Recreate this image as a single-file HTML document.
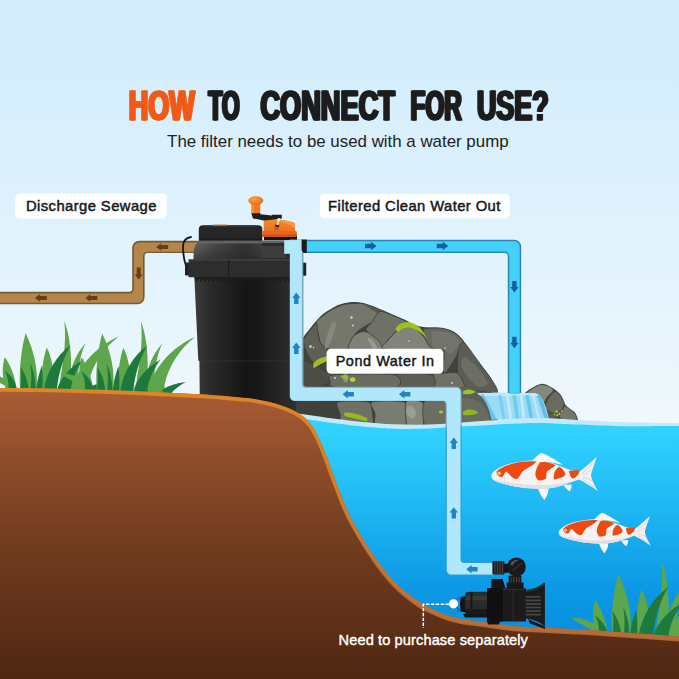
<!DOCTYPE html>
<html lang="en">
<head>
<meta charset="utf-8">
<title>How to connect for use</title>
<style>
html,body{margin:0;padding:0;background:#d6eefc;}
body{width:679px;height:679px;overflow:hidden;position:relative;font-family:"Liberation Sans",sans-serif;}
svg{position:absolute;left:0;top:0;display:block;}
text{font-family:"Liberation Sans",sans-serif;}
</style>
</head>
<body>
<svg width="679" height="679" viewBox="0 0 679 679">
<defs>
  <linearGradient id="sky" gradientUnits="userSpaceOnUse" x1="0" y1="0" x2="0" y2="420">
    <stop offset="0" stop-color="#d5edfc"/>
    <stop offset="0.2" stop-color="#d6eefc"/>
    <stop offset="0.62" stop-color="#e2f3fd"/>
    <stop offset="1" stop-color="#f0f8fc"/>
  </linearGradient>
  <linearGradient id="water" gradientUnits="userSpaceOnUse" x1="0" y1="418" x2="0" y2="679">
    <stop offset="0" stop-color="#33d6ff"/>
    <stop offset="0.31" stop-color="#20baf5"/>
    <stop offset="0.66" stop-color="#0c98e4"/>
    <stop offset="1" stop-color="#0586d8"/>
  </linearGradient>
  <linearGradient id="ground" gradientUnits="userSpaceOnUse" x1="0" y1="390" x2="0" y2="679">
    <stop offset="0" stop-color="#a95c35"/>
    <stop offset="0.49" stop-color="#753e20"/>
    <stop offset="1" stop-color="#4f2713"/>
  </linearGradient>
  <linearGradient id="groundEdge" gradientUnits="userSpaceOnUse" x1="0" y1="388" x2="0" y2="640">
    <stop offset="0" stop-color="#de8526"/>
    <stop offset="0.45" stop-color="#d07c2a"/>
    <stop offset="0.8" stop-color="#bf7335"/>
    <stop offset="1" stop-color="#b56a38"/>
  </linearGradient>
  <linearGradient id="groundEdge2" gradientUnits="userSpaceOnUse" x1="0" y1="388" x2="0" y2="640">
    <stop offset="0" stop-color="#b26a34" stop-opacity="0"/>
    <stop offset="0.6" stop-color="#a5622f" stop-opacity="0"/>
    <stop offset="0.85" stop-color="#b06838" stop-opacity="0.9"/>
    <stop offset="1" stop-color="#ae6636" stop-opacity="1"/>
  </linearGradient>
  <linearGradient id="can" gradientUnits="userSpaceOnUse" x1="194" y1="0" x2="296" y2="0">
    <stop offset="0" stop-color="#3c3c3c"/>
    <stop offset="0.16" stop-color="#2b2b2b"/>
    <stop offset="0.5" stop-color="#151515"/>
    <stop offset="0.62" stop-color="#171717"/>
    <stop offset="1" stop-color="#303030"/>
  </linearGradient>
  <linearGradient id="shoulder" gradientUnits="userSpaceOnUse" x1="0" y1="240" x2="0" y2="260">
    <stop offset="0" stop-color="#666664"/>
    <stop offset="0.5" stop-color="#555552"/>
    <stop offset="1" stop-color="#3e3e3c"/>
  </linearGradient>
  <linearGradient id="shoulderDark" gradientUnits="userSpaceOnUse" x1="196" y1="0" x2="262" y2="0">
    <stop offset="0" stop-color="#262626" stop-opacity="0"/>
    <stop offset="0.3" stop-color="#262626" stop-opacity="0.45"/>
    <stop offset="0.75" stop-color="#222222" stop-opacity="0.75"/>
    <stop offset="1" stop-color="#262626" stop-opacity="0.55"/>
  </linearGradient>
  <linearGradient id="orangeCap" gradientUnits="userSpaceOnUse" x1="0" y1="220" x2="0" y2="238">
    <stop offset="0" stop-color="#f58a2a"/>
    <stop offset="0.6" stop-color="#ee7220"/>
    <stop offset="1" stop-color="#d55a16"/>
  </linearGradient>
  <radialGradient id="knob" cx="0.4" cy="0.35" r="0.7">
    <stop offset="0" stop-color="#ffa040"/>
    <stop offset="1" stop-color="#e8681a"/>
  </radialGradient>
  <linearGradient id="fall" gradientUnits="userSpaceOnUse" x1="0" y1="393" x2="0" y2="420">
    <stop offset="0" stop-color="#7fd0f3"/>
    <stop offset="1" stop-color="#a8e2f9"/>
  </linearGradient>
</defs>

<rect x="0" y="0" width="679" height="440" fill="url(#sky)"/>
<g id="rocks">
<path d="M298,346 C301,340 304,336 308,331 C312,326 315,322 318,319 C322,314 326,311.5 330,309.5 C335,306 340,304 345,303 C350,301.6 357,301.5 362,302.8 C368,304 378,308 388,312.5 C396,316 402,320 410,323 C416,326 424,327.5 431,327.6 C440,327.4 449,329 454.5,332 C460,336 463,340 465,343 C470,351 475,357 479,362 C484,369 487,373 489.6,376.3 C493,382 496,388 498,392 L498,430 L298,430 Z" fill="#42443c"/>
<path d="M316.2,322 C317.68,319.4 326,313.2 329.5,311 C333,308.8 340.15,305.32 344.2,304.4 C348.25,303.47 357.85,303.08 361.9,303.6 C365.95,304.12 374.03,307.1 376.6,308.6 C379.18,310.1 383.24,313.8 382.5,315.6 C381.76,317.4 373.65,321.16 370.7,323 C367.75,324.84 361.3,328.28 358.9,330.3 C356.5,332.32 352.79,336.86 351.5,339.2 C350.21,341.54 351.64,347.77 348.6,349 C345.56,350.23 330.7,349.68 327.2,349 C323.7,348.32 321.79,345.75 320.6,343.6 C319.41,341.45 318.25,334.5 317.7,331.8 C317.15,329.1 314.72,324.6 316.2,322Z" fill="#74766b" stroke="#3c3e37" stroke-width="0.8" stroke-linejoin="round"/>
<path d="M361.9,303.6 C361.72,302.99 373.09,307.35 376.6,308.6 C380.11,309.85 386.82,312.35 390,313.6 C393.18,314.85 399.5,317.39 402,318.6 C404.5,319.81 410.54,322.38 410,323.3 C409.46,324.23 400.45,326.29 397.7,326 C394.95,325.71 390.46,322.56 388,321 C385.54,319.44 381.26,315.68 378,313.5 C374.74,311.32 362.07,304.21 361.9,303.6Z" fill="#55574e"/>
<path d="M303.7,340 C304.62,335.84 314.45,324.62 316.2,323.6 C317.95,322.58 317.15,329.3 317.7,331.8 C318.25,334.3 319.41,341.4 320.6,343.6 C321.79,345.8 326.46,347.19 327.2,349.4 C327.94,351.61 327.88,359.45 326.5,361.3 C325.12,363.15 318.41,364.75 316.2,364.2 C313.99,363.65 310.36,359.92 308.8,356.9 C307.24,353.88 302.77,344.16 303.7,340Z" fill="#5e6057" stroke="#3c3e37" stroke-width="0.8" stroke-linejoin="round"/>
<path d="M303.5,360.8 C304.9,358.26 311.82,364.35 314.7,365.7 C317.57,367.05 324.1,370.12 326.5,371.6 C328.9,373.08 334.45,375.7 333.9,377.5 C333.35,379.3 325.9,384.94 322.1,386 C318.3,387.06 305.82,389.15 303.5,386 C301.18,382.85 302.1,363.34 303.5,360.8Z" fill="#4c4e46" stroke="#3c3e37" stroke-width="0.8" stroke-linejoin="round"/>
<path d="M354.5,335.2 C356.06,334.04 360.91,331.45 363.3,331.4 C365.69,331.35 371.2,333.09 373.6,334.8 C376,336.51 381.15,343.25 382.5,345.1 C383.85,346.95 388.46,349.04 384.4,349.6 C380.34,350.16 354.2,350.71 350,349.6 C345.8,348.49 350.24,342.5 350.8,340.7 C351.36,338.9 352.94,336.36 354.5,335.2Z" fill="#7f8177" stroke="#3c3e37" stroke-width="0.8" stroke-linejoin="round"/>
<path d="M380.5,311.5 C383.71,310.95 394.01,316.06 397.7,317.6 C401.39,319.14 410,322.21 410,323.8 C410,325.39 400.57,328.15 397.7,330.3 C394.82,332.45 388.74,338.66 387,341 C385.26,343.34 384.93,349.12 383.8,349 C382.68,348.88 380.23,342.38 378,340 C375.77,337.62 366.75,332.25 366,330 C365.25,327.75 370.19,324.31 372,322 C373.81,319.69 377.29,312.05 380.5,311.5Z" fill="#6f7166" stroke="#3c3e37" stroke-width="0.8" stroke-linejoin="round"/>
<path d="M397.7,330.6 C400.75,328.76 408.49,325.45 411.8,326.3 C415.11,327.15 421.76,334.56 424.2,337.4 C426.64,340.24 436.32,347.55 431.3,349 C426.28,350.45 389.49,350 384,349 C378.51,348 385.69,343.3 387.4,341 C389.11,338.7 394.65,332.44 397.7,330.6Z" fill="#828479" stroke="#3c3e37" stroke-width="0.8" stroke-linejoin="round"/>
<path d="M424.2,329 C426.39,327.85 438.15,327.75 441.9,328.2 C445.65,328.65 451.55,330.95 454.2,332.6 C456.85,334.25 462.65,338.81 463.1,341.4 C463.55,343.99 459.35,350.26 457.8,353.3 C456.25,356.34 452.47,363.26 450.7,365.7 C448.93,368.14 444.49,374.76 443.6,372.8 C442.71,370.84 445.14,353.05 443.6,350 C442.06,346.95 433.7,349.97 431.3,348.4 C428.9,346.82 425.29,339.82 424.4,337.4 C423.51,334.97 422.01,330.15 424.2,329Z" fill="#676960" stroke="#3c3e37" stroke-width="0.8" stroke-linejoin="round"/>
<path d="M433,331.6 C435.21,330.03 447.39,332.25 450.7,333.6 C454.01,334.95 459.5,339.94 459.5,342.4 C459.5,344.86 452.69,352.38 450.7,353.3 C448.71,354.23 445.81,350.69 443.6,349.8 C441.39,348.91 434.32,348.47 433,346.2 C431.68,343.93 430.79,333.18 433,331.6Z" fill="#73756b"/>
<path d="M463.4,342 C466.02,343.12 475.73,358.28 479,362.6 C482.27,366.93 487.33,373.01 489.6,376.6 C491.88,380.19 498.52,389.46 497.2,391.3 C495.88,393.14 483.05,391.85 479,391.3 C474.95,390.75 467.45,389.21 464.8,386.9 C462.15,384.59 458.65,376.96 457.8,372.8 C456.95,368.64 457.3,357.45 458,353.6 C458.7,349.75 460.77,340.88 463.4,342Z" fill="#5c5e55" stroke="#3c3e37" stroke-width="0.8" stroke-linejoin="round"/>
<path d="M464.8,357 C467.01,357.44 476.12,365.9 479,369.2 C481.88,372.5 487.8,381.19 487.8,383.4 C487.8,385.61 481.43,387.57 479,386.9 C476.57,386.22 470.61,380.65 468.4,378 C466.19,375.35 461.75,368.32 461.3,365.7 C460.85,363.07 462.59,356.56 464.8,357Z" fill="#6d6f65"/>
<path d="M443.6,373.2 C446.7,373 455.15,371.49 457.8,373.2 C460.45,374.91 464.8,385.02 464.8,386.9 C464.8,388.77 461.78,388.14 457.8,388.2 C453.82,388.26 436.1,389.07 433,387.4 C429.9,385.72 431.68,376.57 433,374.8 C434.32,373.03 440.5,373.4 443.6,373.2Z" fill="#6f7166" stroke="#3c3e37" stroke-width="0.8" stroke-linejoin="round"/>
<path d="M395.9,374.8 C400.1,373.23 426.71,373.23 431.3,374.8 C435.89,376.38 436.8,385.82 432.6,387.4 C428.4,388.97 402.29,388.97 397.7,387.4 C393.11,385.82 391.7,376.38 395.9,374.8Z" fill="#5c5e55" stroke="#3c3e37" stroke-width="0.8" stroke-linejoin="round"/>
<path d="M334,374.8 C342,374.03 386.25,373.23 394,374.8 C401.75,376.38 403.25,385.82 396,387.4 C388.75,388.97 344.25,388.2 336,387.4 C327.75,386.6 330.25,382.57 330,381 C329.75,379.43 326,375.57 334,374.8Z" fill="#6a6c62" stroke="#3c3e37" stroke-width="0.8" stroke-linejoin="round"/>
<path d="M331.7,323.5 C335,320.5 336.6,321.5 335.6,327 C333.6,337 329.6,346 325.6,349 C323.6,347 326.6,334 331.7,323.5 Z" fill="#86887e"/>
<path d="M367,337.6 C370,336.6 375.6,342.6 377.6,348.6 L373,348.6 C370.6,344.6 368.4,341 367,337.6 Z" fill="#9a9c92"/>
<path d="M288,400 L447,400 L447,432 L288,432 Z" fill="#3d3f38"/>
<path d="M300,402 C304,398.5 327.38,401 332,402 C336.62,403 336.25,407.25 337,410 C337.75,412.75 339.38,421.5 338,424 C336.62,426.5 330.75,429.25 326,430 C321.25,430.75 303.25,433.5 300,430 C296.75,426.5 296,405.5 300,402Z" fill="#3f413a"/>
<path d="M338,402 C341.5,400.5 363.75,401 368,402 C372.25,403 371.38,407.25 372,410 C372.62,412.75 373.75,421.5 373,424 C372.25,426.5 369.88,429.25 366,430 C362.12,430.75 345.25,432 342,430 C338.75,428 340.5,417.5 340,414 C339.5,410.5 334.5,403.5 338,402Z" fill="#6f7166" stroke="#3c3e37" stroke-width="0.8" stroke-linejoin="round"/>
<path d="M372,402 C375.62,400.5 399.75,400.75 404,402 C408.25,403.25 406,408.5 406,412 C406,415.5 407.75,427.75 404,430 C400.25,432.25 379.62,432 376,430 C372.38,428 375.5,417.5 375,414 C374.5,410.5 368.38,403.5 372,402Z" fill="#7a7c72" stroke="#3c3e37" stroke-width="0.8" stroke-linejoin="round"/>
<path d="M406,402 C407.75,398.5 419.75,400.75 422,402 C424.25,403.25 424,408.5 424,412 C424,415.5 424,427.75 422,430 C420,432.25 410,433.5 408,430 C406,426.5 404.25,405.5 406,402Z" fill="#85877d" stroke="#3c3e37" stroke-width="0.8" stroke-linejoin="round"/>
<path d="M424,402 C426.5,398.5 443.25,398.5 446,402 C448.75,405.5 448.5,426.5 446,430 C443.5,433.5 428.75,433.5 426,430 C423.25,426.5 421.5,405.5 424,402Z" fill="#6c6e64" stroke="#3c3e37" stroke-width="0.8" stroke-linejoin="round"/>
<ellipse cx="411" cy="412" rx="4.6" ry="6.4" fill="#9c9e94" transform="rotate(-20 411 412)"/>
<path d="M461,388 C463.25,382.95 474.5,391.15 479,391.6 C483.5,392.05 495.25,390.55 497,391.6 C498.75,392.65 493.81,397.7 493,400 C492.19,402.3 490.81,406 490.5,410 C490.19,414 494.19,429.25 490.5,432 C486.81,434.75 464.69,437.5 461,432 C457.31,426.5 458.75,393.05 461,388Z" fill="#5d5f56"/>
<path d="M461,400 C462.38,395.88 469.38,398.5 472,399 C474.62,399.5 480,402.12 482,404 C484,405.88 487.12,410.5 488,414 C488.88,417.5 492.38,429.75 489,432 C485.62,434.25 464.5,436 461,432 C457.5,428 459.62,404.12 461,400Z" fill="#696b61"/>
<path d="M313,364 C317,358.6 324,356 330,356.6 L330,360.6 C324,361.6 318,365.6 313.6,368.6 Z" fill="#9bc21f"/>
<path d="M395.6,328.8 C398,323.6 404,321.6 410.5,322.4 C418,324 423.6,331 427,338.6 C421.6,333 415.6,328.6 409.6,327.6 C404,327 400,330.6 397.6,332.6 Z" fill="#9cc41f"/>
<ellipse cx="352.6" cy="379.6" rx="2.8" ry="2.4" fill="#b5d334"/>
<ellipse cx="345.6" cy="378" rx="2.6" ry="4.6" fill="#8f97a8" opacity="0.75"/>
<path d="M340,376 C343,374.6 347,375 349,377 L347,380 C344,379.6 342,378.6 340,376Z" fill="#9bc21f" opacity="0.8"/>
<path d="M344,412.6 C351,411.6 360,414 367.6,418.6 L366.6,421.6 C359,419.6 351,417.6 344.6,416 Z" fill="#93bb20"/>
<path d="M463,391.6 C466,388.6 472,388.8 476,392 C472,394.6 467,394.6 463,394 Z" fill="#9bc21f"/>
<path d="M463,411.6 C467,408.6 474,409 478,412.4 C474,415.6 467,415.6 463,415 Z" fill="#8fb820"/>
<ellipse cx="441" cy="412" rx="2.2" ry="1.6" fill="#a6c92b"/>
<circle cx="351.5" cy="317.5" r="1.2" fill="#d8dad2"/>
<circle cx="353" cy="325.5" r="0.9" fill="#d8dad2"/>
<circle cx="310.5" cy="346.5" r="1.3" fill="#d8dad2"/>
<circle cx="313.5" cy="347.5" r="0.8" fill="#d8dad2"/>
<circle cx="452" cy="383" r="0.9" fill="#d8dad2"/>
<circle cx="335" cy="378" r="1.0" fill="#d8dad2"/>
<circle cx="409" cy="341" r="0.8" fill="#d8dad2"/>
<circle cx="445" cy="348" r="0.8" fill="#d8dad2"/>
<path d="M521,397 C524,393 529,389.6 533.6,387.1 C536,385.4 538.6,384.2 540.7,383.9 C544,383.6 547,384.6 549.5,386.2 C554,388.6 557.4,391.4 560.1,394.1 C562.6,397.6 564,401 565.4,404.7 C568,407.4 571.4,409.6 574.3,411.8 C576,413.6 577,416 577.8,419 L579,424 L521,424 Z" fill="#484a42"/>
<path d="M526,394 C526.45,392.82 531.76,389.32 533.6,388.2 C535.44,387.07 538.9,385.2 540.7,385 C542.5,384.8 546.46,385.9 548,386.6 C549.54,387.3 553.12,389.3 553,390.6 C552.88,391.9 548.25,395.45 547,397 C545.75,398.55 544.38,402.62 543,403 C541.62,403.38 537.62,400.68 536,400 C534.38,399.32 531.25,398.35 530,397.6 C528.75,396.85 525.55,395.18 526,394Z" fill="#85877c"/>
<path d="M554.6,392 C556.02,391.38 558.27,393.62 559.4,395 C560.52,396.38 563.4,401.12 563.6,403 C563.8,404.88 562.33,408.75 561,410 C559.67,411.25 554.88,413.25 553,413 C551.12,412.75 546.62,409.62 546,408 C545.38,406.38 546.92,402 548,400 C549.08,398 553.18,392.62 554.6,392Z" fill="#696b61"/>
<path d="M565.4,406.6 C566.7,406.73 571.6,410.5 573,412 C574.4,413.5 577.48,417.48 576.6,418.6 C575.73,419.73 568.08,421.2 566,421 C563.92,420.8 560.42,418.25 560,417 C559.58,415.75 561.93,412.3 562.6,411 C563.27,409.7 564.1,406.48 565.4,406.6Z" fill="#74766c"/>
<path d="M540,410 C541.75,409.57 549.75,413.23 552,414.6 C554.25,415.98 559,419.95 558,421 C557,422.05 546.5,423.38 544,423 C541.5,422.62 538.5,419.62 538,418 C537.5,416.38 538.25,410.43 540,410Z" fill="#5c5e55"/>
<circle cx="556.6" cy="411.6" r="1.3" fill="#a9c92e"/>
<circle cx="559.4" cy="413.8" r="1.2" fill="#a9c92e"/>
<circle cx="557.2" cy="415.4" r="1.1" fill="#a9c92e"/>
<circle cx="561.8" cy="411.2" r="0.9" fill="#a9c92e"/>
<circle cx="554.4" cy="414.4" r="1.0" fill="#a9c92e"/>
</g>
<g id="fall">
<clipPath id="fallclip"><path d="M477,393.4 C490,392.6 522,392.6 535.4,393.3 C539,394.4 541.4,396.6 542.6,399.4 C545,404 547.4,410 549,419.6 L491.4,419.6 C490.4,412 487.6,404.6 484,399.4 C482,396.6 479.6,394.6 477,393.4 Z"/></clipPath>
<g clip-path="url(#fallclip)">
<rect x="470" y="390" width="90" height="32" fill="#9bdbf6"/>
<rect x="470" y="390" width="90" height="6" fill="#bfe9fa"/>
<path d="M481,395 C484.25,400 488.8,408 494,420" stroke="#5ebfea" stroke-width="5" fill="none" opacity="0.85"/>
<path d="M499.6,395 C500.7,400 502.24,408 504,420" stroke="#74caef" stroke-width="3" fill="none" opacity="0.85"/>
<path d="M507,395 C508,400 509.4,408 511,420" stroke="#c6ecfb" stroke-width="3" fill="none" opacity="0.85"/>
<path d="M514,395 C514.9,400 516.16,408 517.6,420" stroke="#6ac5ed" stroke-width="3.4" fill="none" opacity="0.85"/>
<path d="M521,395 C521.75,400 522.8,408 524,420" stroke="#c9edfb" stroke-width="2.6" fill="none" opacity="0.85"/>
<path d="M527,395 C528.15,400 529.76,408 531.6,420" stroke="#62c1eb" stroke-width="3.6" fill="none" opacity="0.85"/>
<path d="M533,395 C534.5,400 536.6,408 539,420" stroke="#c4ebfb" stroke-width="2.6" fill="none" opacity="0.85"/>
<path d="M538.6,395 C540.6,400 543.4,408 546.6,420" stroke="#56b9e6" stroke-width="3.6" fill="none" opacity="0.85"/>
</g>
</g>
<g id="bluePipe">
<path d="M305,253.1 L504.6,253.1 A3.2,3.2 0 0 1 507.8,256.3 L507.8,393 L521.2,393 L521.2,246.7 A7,7 0 0 0 514.2,239.7 L305,239.7 Z" fill="#2a87b2"/>
<path d="M305,251.6 L504.6,251.6 A4.7,4.7 0 0 1 509.3,256.3 L509.3,394 L519.7,394 L519.7,246.7 A5.5,5.5 0 0 0 514.2,241.2 L305,241.2 Z" fill="#45d0fb"/>
<path d="M365.05,243.8 L371.05,243.8 L371.05,241.8 L376.55,246 L371.05,250.2 L371.05,248.2 L365.05,248.2Z" fill="#0f62a8"/>
<path d="M436.75,243.8 L442.75,243.8 L442.75,241.8 L448.25,246 L442.75,250.2 L442.75,248.2 L436.75,248.2Z" fill="#0f62a8"/>
<path d="M516.6,281.05 L516.6,287.05 L518.6,287.05 L514.4,292.55 L510.2,287.05 L512.2,287.05 L512.2,281.05Z" fill="#0f62a8"/>
<path d="M516.6,336.65 L516.6,342.65 L518.6,342.65 L514.4,348.15 L510.2,342.65 L512.2,342.65 L512.2,336.65Z" fill="#0f62a8"/>
</g>
<g id="waterG">
<path d="M280,411.5 C284.17,411.98 295.83,413.2 305,414.4 C314.17,415.6 324,417.32 335,418.7 C346,420.08 361.17,421.77 371,422.7 C380.83,423.63 386.17,423.95 394,424.3 C401.83,424.65 410.17,424.87 418,424.8 C425.83,424.73 433.17,424.33 441,423.9 C448.83,423.47 456.83,422.77 465,422.2 C473.17,421.63 481.67,421.07 490,420.5 C498.33,419.93 506.67,419.22 515,418.8 C523.33,418.38 529.17,417.8 540,418 C550.83,418.2 566.67,419.32 580,420 C593.33,420.68 608.33,421.63 620,422.1 C631.67,422.57 639,422.6 650,422.8 C661,423 680,423.22 686,423.3 L686,686 L280,686 Z" fill="#c3eafb"/>
<path d="M280,416.1 C284.17,416.58 295.83,417.8 305,419 C314.17,420.2 324,421.92 335,423.3 C346,424.68 361.17,426.4 371,427.3 C380.83,428.2 386.17,428.45 394,428.7 C401.83,428.95 410.17,428.97 418,428.8 C425.83,428.63 433.17,428.13 441,427.7 C448.83,427.27 456.83,426.67 465,426.2 C473.17,425.73 481.67,425.33 490,424.9 C498.33,424.47 506.67,423.92 515,423.6 C523.33,423.28 529.17,422.83 540,423 C550.83,423.17 566.67,424.07 580,424.6 C593.33,425.13 608.33,425.93 620,426.2 C631.67,426.47 639,426.22 650,426.2 C661,426.18 680,426.12 686,426.1 L686,686 L280,686 Z" fill="url(#water)"/>
</g>
<defs><g id="clump"><path d="M10,6 L10,0 C4,-3 -6,-8 -16.6,-14.6 C-8,-16 2,-12 14,-3 L16,6Z" fill="#5da64b"/>
<path d="M5,6 L5.5,0 C2,-12 2,-22 4.8,-30.8 C10,-24 15,-12 16.5,0 L16.5,6Z" fill="#5da64b"/>
<path d="M20,6 L20,0 C19,-18 21,-38 25.6,-54.8 C32,-42 39,-20 36.5,0 L36.5,6Z" fill="#5da64b"/>
<path d="M42,6 L42.5,0 C41,-14 42.5,-28 46.7,-40.6 C51.5,-32 55,-16 53,0 L53,6Z" fill="#5da64b"/>
<path d="M58,6 L59,0 C62,-22 67,-44 64.3,-66.8 C70.5,-52 73,-24 69.8,0 L69.8,6Z" fill="#5da64b"/>
<path d="M67,6 L68,0 C69,-16 74,-32 85.7,-45 C80,-34 77.5,-16 77,0 L77,6Z" fill="#5da64b"/>
<path d="M73,6 L74,-4 C79,-22 95,-41 118.8,-51.6 C103,-40 92,-22 88,-4 L88,6Z" fill="#5da64b"/>
<path d="M8,6 L8.5,0 C8.5,-7 7.5,-12 4.8,-17 C10.5,-13.5 15,-7 16.6,0 L16.6,6Z" fill="#1d7a3c"/>
<path d="M20.5,6 L20.5,0 C21.5,-8 21.5,-14 20.6,-20.8 C25,-15 27.8,-7 28.4,0 L28.4,6Z" fill="#1d7a3c"/>
<path d="M30.5,6 L30.8,0 C31.6,-10 31.4,-17 30,-25.4 C33.8,-17 35.6,-8 35.6,0 L35.6,6Z" fill="#1d7a3c"/>
<path d="M36,6 L36.3,0 C37.5,-9 39.5,-16 41.9,-22.5 C42.8,-15 43,-7 42.7,0 L42.7,6Z" fill="#1d7a3c"/>
<path d="M44,6 L44.2,0 C47,-16 56,-32 70.8,-43 C63,-30 58.5,-14 57,0 L57,6Z" fill="#1d7a3c"/>
<path d="M57.5,6 L57.6,0 C61,-10 70,-21 84,-29 C77.5,-21 72.5,-10 71,0 L71,6Z" fill="#1d7a3c"/>
<path d="M86,6 L86,1 C92,-3 100,-5.5 109,-6.5 C102,-2.5 97,1 94,6Z" fill="#1d7a3c"/></g></defs>
<g id="grassLeft"><use href="#clump" transform="translate(0,388)"/><use href="#clump" transform="translate(76.6,388.4)"/></g>
<g id="grassRight" transform="translate(589.8,634.5) scale(1.11)"><use href="#clump"/></g>
<g id="brownPipe">
<path d="M-8,304.2 L137.6,304.2 A7,7 0 0 0 144.6,297.2 L144.6,256.1 A3,3 0 0 1 147.6,253.1 L200,253.1 L200,240.7 L139.2,240.7 A7,7 0 0 0 132.2,247.7 L132.2,288.8 A3,3 0 0 1 129.2,291.8 L-8,291.8 Z" fill="#74593a"/>
<path d="M-8,302.8 L137.6,302.8 A5.4,5.4 0 0 0 143,297.4 L143,256.1 A4.4,4.4 0 0 1 147.4,251.7 L200,251.7 L200,242.5 L139.2,242.5 A5.4,5.4 0 0 0 133.8,247.9 L133.8,289.2 A4.4,4.4 0 0 1 129.4,293.6 L-8,293.6 Z" fill="#b4864a"/>
<path d="M46.85,299.9 L39.85,299.9 L39.85,301.75 L34.95,297.9 L39.85,294.05 L39.85,295.9 L46.85,295.9Z" fill="#6a3d12"/>
<path d="M97.35,299.9 L90.35,299.9 L90.35,301.75 L85.45,297.9 L90.35,294.05 L90.35,295.9 L97.35,295.9Z" fill="#6a3d12"/>
<path d="M140.7,267.55 L140.7,274.55 L142.55,274.55 L138.7,279.45 L134.85,274.55 L136.7,274.55 L136.7,267.55Z" fill="#6a3d12"/>
<path d="M168.15,249 L161.15,249 L161.15,250.85 L156.25,247 L161.15,243.15 L161.15,245 L168.15,245Z" fill="#6a3d12"/>
</g>
<g id="canister">
<path d="M191,237 C186,238 183,241 183,246 C183,254 184,260 186,266" fill="none" stroke="#161616" stroke-width="1.8" stroke-linecap="round"/>
<rect x="185" y="262.5" width="5" height="13" rx="1" fill="#222"/>
<path d="M199.4,360 L296,360 L296,420 L200,420 Z" fill="url(#can)"/>
<rect x="199.4" y="360" width="97" height="1.2" fill="#3d3d3d"/>
<path d="M194.3,276 L296,276 L296,360.7 L198.3,360.7 Z" fill="url(#can)"/>
<path d="M200,240.6 L296,240.6 L296,260 L193.4,260 L193.8,250.4 C194.4,246 196.4,242.6 200,240.6 Z" fill="url(#shoulder)"/>
<path d="M196,243.6 L262,243.6 L262,260 L193.4,260 L193.8,250.4 Z" fill="url(#shoulderDark)"/>
<path d="M262,243 L296,243 L296,260 L262,260 Z" fill="#2c2c2b"/>
<path d="M262,246 L286,246 L286,258 L262,258 Z" fill="#3d3d3b"/>
<path d="M188.6,259.4 L296,259.4 L296,277.2 L188.6,277.2 Z" fill="#2d2d2d"/>
<rect x="188.6" y="259.4" width="108" height="1.1" fill="#4a4a4a"/>
<rect x="228" y="260" width="1.2" height="17" fill="#1b1b1b"/>
<path d="M194.5,277 L296,277 L296,279.2 L194.8,279.2 Z" fill="#1e1e1e"/>
<rect x="196" y="279" width="1.6" height="2.6" fill="#1a1a1a"/>
<rect x="200" y="279" width="1.6" height="2.6" fill="#1a1a1a"/>
<rect x="204" y="279" width="1.6" height="2.6" fill="#1a1a1a"/>
<rect x="208" y="279" width="1.6" height="2.6" fill="#1a1a1a"/>
<rect x="212" y="279" width="1.6" height="2.6" fill="#1a1a1a"/>
<rect x="216" y="279" width="1.6" height="2.6" fill="#1a1a1a"/>
<rect x="220" y="279" width="1.6" height="2.6" fill="#1a1a1a"/>
<rect x="224" y="279" width="1.6" height="2.6" fill="#1a1a1a"/>
<rect x="228" y="279" width="1.6" height="2.6" fill="#1a1a1a"/>
<rect x="232" y="279" width="1.6" height="2.6" fill="#1a1a1a"/>
<rect x="236" y="279" width="1.6" height="2.6" fill="#1a1a1a"/>
<rect x="240" y="279" width="1.6" height="2.6" fill="#1a1a1a"/>
<rect x="244" y="279" width="1.6" height="2.6" fill="#1a1a1a"/>
<rect x="248" y="279" width="1.6" height="2.6" fill="#1a1a1a"/>
<rect x="252" y="279" width="1.6" height="2.6" fill="#1a1a1a"/>
<rect x="256" y="279" width="1.6" height="2.6" fill="#1a1a1a"/>
<rect x="260" y="279" width="1.6" height="2.6" fill="#1a1a1a"/>
<rect x="264" y="279" width="1.6" height="2.6" fill="#1a1a1a"/>
<rect x="268" y="279" width="1.6" height="2.6" fill="#1a1a1a"/>
<rect x="272" y="279" width="1.6" height="2.6" fill="#1a1a1a"/>
<rect x="276" y="279" width="1.6" height="2.6" fill="#1a1a1a"/>
<rect x="280" y="279" width="1.6" height="2.6" fill="#1a1a1a"/>
<rect x="284" y="279" width="1.6" height="2.6" fill="#1a1a1a"/>
<rect x="288" y="279" width="1.6" height="2.6" fill="#1a1a1a"/>
<path d="M198.8,240.5 L198.8,229 Q198.8,225.2 203,225.2 L258,225.2 Q262.3,225.2 262.3,229 L262.3,240.5 Z" fill="#262626"/>
<rect x="199" y="238.6" width="63" height="2" fill="#1a1a1a"/>
<rect x="206" y="225.2" width="50" height="1.4" fill="#3c3c3c"/>
<rect x="213" y="224.6" width="14" height="1.1" fill="#c86a28"/>
<rect x="264" y="236" width="33" height="4.2" fill="#151515"/>
<path d="M263.7,232 L263.7,221.2 Q263.7,219.5 265.6,219.5 L281,219.9 C287,220.5 292,221.6 294.6,223 L295.2,232 Z" fill="url(#orangeCap)"/>
<path d="M262.2,232.4 Q262.2,231 263.6,231 L295.4,231 Q296.8,231 296.8,232.4 L296.8,235.6 Q296.8,237 295.4,237 L263.6,237 Q262.2,237 262.2,235.6 Z" fill="#e4671a"/>
<path d="M262.2,234.6 L296.8,234.6 L296.8,235.6 Q296.8,237 295.4,237 L263.6,237 Q262.2,237 262.2,235.6 Z" fill="#c9531a"/>
<path d="M281,219.9 C287,220.5 292,221.6 294.6,223 L295,228 C290,224.6 285,223 281,222.6 Z" fill="#f9a040" opacity="0.7"/>
<path d="M274.6,224 L279.6,224 L278.6,230.6 L274,230.6 Z" fill="#c9531a" opacity="0.8"/>
<path d="M251.3,213 L260.2,213 L260.4,214.2 L272,215.6 L272,214.7 L281.8,214.7 L281.8,218.6 L275.6,219.5 L263.7,220.4 L252.9,218.4 Z" fill="#1f1f1f"/>
<path d="M277.9,219.4 L279.6,219.4 L278.2,225.8 L276.4,225.8 Z" fill="#e4e4e4"/>
<circle cx="278.8" cy="219.4" r="1.5" fill="#f2f2f2"/>
<rect x="275.6" y="225" width="3.4" height="2" fill="#3a2a20"/>
<rect x="251.4" y="203" width="8.8" height="10.2" fill="#ef7a1c"/>
<rect x="251.4" y="203" width="2.4" height="10.2" fill="#f59a30" opacity="0.8"/>
<ellipse cx="255.8" cy="200.6" rx="7.5" ry="4.3" fill="url(#knob)"/>
</g>
<clipPath id="gclip"><path d="M-6,388 C3.33,388.07 32.33,388.1 50,388.4 C67.67,388.7 83.33,389.23 100,389.8 C116.67,390.37 133.33,391.05 150,391.8 C166.67,392.55 185,393.37 200,394.3 C215,395.23 230.88,396.63 240,397.4 C249.12,398.17 249.78,398.12 254.7,398.9 C259.62,399.68 264.58,400.83 269.5,402.1 C274.42,403.37 279.78,404.9 284.2,406.5 C288.62,408.1 292.57,409.85 296,411.7 C299.43,413.55 302.1,415.27 304.8,417.6 C307.5,419.93 309.75,422.15 312.2,425.7 C314.65,429.25 317.05,433.75 319.5,438.9 C321.95,444.05 324.43,450.22 326.9,456.6 C329.37,462.98 331.6,469.97 334.3,477.2 C337,484.43 340.43,493.45 343.1,500 C345.77,506.55 347.38,510.67 350.3,516.5 C353.22,522.33 357.17,529.17 360.6,535 C364.03,540.83 367.47,546.33 370.9,551.5 C374.33,556.67 377.77,561.52 381.2,566 C384.63,570.48 388.05,574.62 391.5,578.4 C394.95,582.18 398.45,585.62 401.9,588.7 C405.35,591.78 408.77,594.33 412.2,596.9 C415.63,599.47 419.07,602.03 422.5,604.1 C425.93,606.17 429.37,607.68 432.8,609.3 C436.23,610.92 439.67,612.5 443.1,613.8 C446.53,615.1 449.97,616.13 453.4,617.1 C456.83,618.07 459.27,618.85 463.7,619.6 C468.13,620.35 470.62,620.43 480,621.6 C489.38,622.77 503.33,625.27 520,626.6 C536.67,627.93 561.67,628.53 580,629.6 C598.33,630.67 612.33,631.77 630,633 C647.67,634.23 676.67,636.33 686,637 L686,686 L-6,686 Z"/></clipPath>
<g clip-path="url(#gclip)">
<path d="M-6,388 C3.33,388.07 32.33,388.1 50,388.4 C67.67,388.7 83.33,389.23 100,389.8 C116.67,390.37 133.33,391.05 150,391.8 C166.67,392.55 185,393.37 200,394.3 C215,395.23 230.88,396.63 240,397.4 C249.12,398.17 249.78,398.12 254.7,398.9 C259.62,399.68 264.58,400.83 269.5,402.1 C274.42,403.37 279.78,404.9 284.2,406.5 C288.62,408.1 292.57,409.85 296,411.7 C299.43,413.55 302.1,415.27 304.8,417.6 C307.5,419.93 309.75,422.15 312.2,425.7 C314.65,429.25 317.05,433.75 319.5,438.9 C321.95,444.05 324.43,450.22 326.9,456.6 C329.37,462.98 331.6,469.97 334.3,477.2 C337,484.43 340.43,493.45 343.1,500 C345.77,506.55 347.38,510.67 350.3,516.5 C353.22,522.33 357.17,529.17 360.6,535 C364.03,540.83 367.47,546.33 370.9,551.5 C374.33,556.67 377.77,561.52 381.2,566 C384.63,570.48 388.05,574.62 391.5,578.4 C394.95,582.18 398.45,585.62 401.9,588.7 C405.35,591.78 408.77,594.33 412.2,596.9 C415.63,599.47 419.07,602.03 422.5,604.1 C425.93,606.17 429.37,607.68 432.8,609.3 C436.23,610.92 439.67,612.5 443.1,613.8 C446.53,615.1 449.97,616.13 453.4,617.1 C456.83,618.07 459.27,618.85 463.7,619.6 C468.13,620.35 470.62,620.43 480,621.6 C489.38,622.77 503.33,625.27 520,626.6 C536.67,627.93 561.67,628.53 580,629.6 C598.33,630.67 612.33,631.77 630,633 C647.67,634.23 676.67,636.33 686,637 L686,686 L-6,686 Z" fill="url(#ground)"/>
<path d="M-6,388 C3.33,388.07 32.33,388.1 50,388.4 C67.67,388.7 83.33,389.23 100,389.8 C116.67,390.37 133.33,391.05 150,391.8 C166.67,392.55 185,393.37 200,394.3 C215,395.23 230.88,396.63 240,397.4 C249.12,398.17 249.78,398.12 254.7,398.9 C259.62,399.68 264.58,400.83 269.5,402.1 C274.42,403.37 279.78,404.9 284.2,406.5 C288.62,408.1 292.57,409.85 296,411.7 C299.43,413.55 302.1,415.27 304.8,417.6 C307.5,419.93 309.75,422.15 312.2,425.7 C314.65,429.25 317.05,433.75 319.5,438.9 C321.95,444.05 324.43,450.22 326.9,456.6 C329.37,462.98 331.6,469.97 334.3,477.2 C337,484.43 340.43,493.45 343.1,500 C345.77,506.55 347.38,510.67 350.3,516.5 C353.22,522.33 357.17,529.17 360.6,535 C364.03,540.83 367.47,546.33 370.9,551.5 C374.33,556.67 377.77,561.52 381.2,566 C384.63,570.48 388.05,574.62 391.5,578.4 C394.95,582.18 398.45,585.62 401.9,588.7 C405.35,591.78 408.77,594.33 412.2,596.9 C415.63,599.47 419.07,602.03 422.5,604.1 C425.93,606.17 429.37,607.68 432.8,609.3 C436.23,610.92 439.67,612.5 443.1,613.8 C446.53,615.1 449.97,616.13 453.4,617.1 C456.83,618.07 459.27,618.85 463.7,619.6 C468.13,620.35 470.62,620.43 480,621.6 C489.38,622.77 503.33,625.27 520,626.6 C536.67,627.93 561.67,628.53 580,629.6 C598.33,630.67 612.33,631.77 630,633 C647.67,634.23 676.67,636.33 686,637" fill="none" stroke="url(#groundEdge2)" stroke-width="10"/>
<path d="M-6,388 C3.33,388.07 32.33,388.1 50,388.4 C67.67,388.7 83.33,389.23 100,389.8 C116.67,390.37 133.33,391.05 150,391.8 C166.67,392.55 185,393.37 200,394.3 C215,395.23 230.88,396.63 240,397.4 C249.12,398.17 249.78,398.12 254.7,398.9 C259.62,399.68 264.58,400.83 269.5,402.1 C274.42,403.37 279.78,404.9 284.2,406.5 C288.62,408.1 292.57,409.85 296,411.7 C299.43,413.55 302.1,415.27 304.8,417.6 C307.5,419.93 309.75,422.15 312.2,425.7 C314.65,429.25 317.05,433.75 319.5,438.9 C321.95,444.05 324.43,450.22 326.9,456.6 C329.37,462.98 331.6,469.97 334.3,477.2 C337,484.43 340.43,493.45 343.1,500 C345.77,506.55 347.38,510.67 350.3,516.5 C353.22,522.33 357.17,529.17 360.6,535 C364.03,540.83 367.47,546.33 370.9,551.5 C374.33,556.67 377.77,561.52 381.2,566 C384.63,570.48 388.05,574.62 391.5,578.4 C394.95,582.18 398.45,585.62 401.9,588.7 C405.35,591.78 408.77,594.33 412.2,596.9 C415.63,599.47 419.07,602.03 422.5,604.1 C425.93,606.17 429.37,607.68 432.8,609.3 C436.23,610.92 439.67,612.5 443.1,613.8 C446.53,615.1 449.97,616.13 453.4,617.1 C456.83,618.07 459.27,618.85 463.7,619.6 C468.13,620.35 470.62,620.43 480,621.6 C489.38,622.77 503.33,625.27 520,626.6 C536.67,627.93 561.67,628.53 580,629.6 C598.33,630.67 612.33,631.77 630,633 C647.67,634.23 676.67,636.33 686,637" fill="none" stroke="url(#groundEdge)" stroke-width="7.6"/>
</g>
<g id="lightPipe">
<clipPath id="lpTop"><rect x="280" y="239.6" width="200" height="186"/></clipPath>
<clipPath id="lpBot"><rect x="430" y="425.6" width="80" height="160"/></clipPath>
<clipPath id="lpAll"><rect x="280" y="240.2" width="230" height="345"/></clipPath>
<path d="M289.7,238 L289.7,396.1 A5,5 0 0 0 294.7,401.1 L442.4,401.1 A3.2,3.2 0 0 1 445.6,404.3 L445.6,570.5 A5,5 0 0 0 450.6,575.5 L494,575.5 L494,562 L464.8,562 A3.2,3.2 0 0 1 461.6,558.8 L461.6,391.8 A5,5 0 0 0 456.6,386.8 L306.7,386.8 A3.2,3.2 0 0 1 303.5,383.6 L303.5,238 Z" fill="#7fa9bb" clip-path="url(#lpTop)"/>
<path d="M289.7,238 L289.7,396.1 A5,5 0 0 0 294.7,401.1 L442.4,401.1 A3.2,3.2 0 0 1 445.6,404.3 L445.6,570.5 A5,5 0 0 0 450.6,575.5 L494,575.5 L494,562 L464.8,562 A3.2,3.2 0 0 1 461.6,558.8 L461.6,391.8 A5,5 0 0 0 456.6,386.8 L306.7,386.8 A3.2,3.2 0 0 1 303.5,383.6 L303.5,238 Z" fill="#2a9fd6" clip-path="url(#lpBot)"/>
<path d="M290,238 L290,396.1 A4.6,4.6 0 0 0 294.6,400.7 L443,400.7 A3.8,3.8 0 0 1 446.8,404.5 L446.8,570.3 A4.2,4.2 0 0 0 451,574.5 L494,574.5 L494,563 L464.3,563 A3.8,3.8 0 0 1 460.5,559.2 L460.5,392.1 A4.4,4.4 0 0 0 456.1,387.7 L305.7,387.7 A3.8,3.8 0 0 1 301.9,383.9 L301.9,238 Z" fill="#b1e7fb" clip-path="url(#lpAll)"/>
<path d="M284.2,240.2 L302,240.2 L302,253.8 L284.2,253.8 Z" fill="#b2e8fc"/>
<path d="M294.1,303.9 L294.1,297.9 L292.1,297.9 L296.3,292.5 L300.5,297.9 L298.5,297.9 L298.5,303.9Z" fill="#2183c4"/>
<path d="M294.1,354 L294.1,348 L292.1,348 L296.3,342.6 L300.5,348 L298.5,348 L298.5,354Z" fill="#2183c4"/>
<path d="M353.9,396.5 L347.9,396.5 L347.9,398.5 L342.5,394.3 L347.9,390.1 L347.9,392.1 L353.9,392.1Z" fill="#2183c4"/>
<path d="M410.3,396.5 L404.3,396.5 L404.3,398.5 L398.9,394.3 L404.3,390.1 L404.3,392.1 L410.3,392.1Z" fill="#2183c4"/>
<path d="M451.6,448.9 L451.6,442.9 L449.6,442.9 L453.8,437.5 L458,442.9 L456,442.9 L456,448.9Z" fill="#2183c4"/>
<path d="M451.6,518.6 L451.6,512.6 L449.6,512.6 L453.8,507.2 L458,512.6 L456,512.6 L456,518.6Z" fill="#2183c4"/>
<path d="M477.6,571.5 L471.6,571.5 L471.6,573.5 L466.2,569.3 L471.6,565.1 L471.6,567.1 L477.6,567.1Z" fill="#2183c4"/>
</g>
<path d="M301.6,239.4 L306.8,239.4 L306.8,253 L303.4,253 L301.6,250 Z" fill="#1c1c1c"/>
<rect x="303.2" y="262.7" width="3" height="13" fill="#222"/>
<defs>
<g id="fish">
 <path d="M88.6,-5.2 C94,-9 100,-14.6 105.6,-19.6 C103.4,-12 100.6,-6 99.9,-1.6 C100.4,3 103.6,9 107,14.7 C100,9.6 93.6,5.6 87.6,3 C88.6,0.4 89,-2.6 88.6,-5.2Z" fill="#f3f1f4"/>
 <path d="M91,-3 L103,-14 M91.6,-1.4 L101,-7 M92,0.4 L101,4 M91,1.8 L103,10" stroke="#cfcbd8" stroke-width="0.7" fill="none"/>
 <path d="M40.7,-15 C44,-19 47,-22 50.5,-23.8 C56,-21.6 64,-17 72,-11.6 C62,-14.6 50,-16 40.7,-15Z" fill="#fbfbfc"/>
 <path d="M46.9,12 C48.6,17 51,21 53.1,23.5 C55.6,20.4 57.6,16 57.6,12 Z" fill="#f6f5f8"/>
 <path d="M72.5,8.4 C74.4,11.6 76.6,13.8 78.7,14.7 C80.2,12 80.7,9.6 80.5,7.8 Z" fill="#f6f5f8"/>
 <path d="M0.1,-0.8 C0.6,-3 1.6,-4.4 2.7,-5.2 C5.6,-7.6 8.6,-9.2 11.6,-10.4 C17,-12.6 23,-14 29.2,-14.9 C35,-15.8 41,-16.3 46.9,-16 C53,-15.6 59,-14.2 64.6,-12.2 C69.6,-10.4 74.4,-8.6 78.7,-6.9 C82.4,-5.6 86,-5 89.3,-5.1 C89.6,-2.4 89,0.6 87.6,2.9 C83,4.4 78,6.4 73.4,8.2 C67.6,10.2 61.6,11.4 55.8,11.8 C50,12.2 44,12.2 38.1,11.7 C32,11.2 26,10.4 20.4,9.1 C14.6,7.8 9,6.4 4.5,4.6 C2,3.6 0.2,1.6 0.1,-0.8Z" fill="#f4f3f1"/>
 <path d="M4.5,4.6 C9,6.4 14.6,7.8 20.4,9.1 C26,10.4 32,11.2 38.1,11.7 C44,12.2 50,12.2 55.8,11.8 C61.6,11.4 67.6,10.2 73.4,8.2 C78,6.4 83,4.4 87.6,2.9 C80,4.6 72,6.6 64,7.6 C52,9 38,8.8 26,7 C18,5.8 10,4.6 4.5,3 Z" fill="#e2e0e6"/>
 <path d="M5.4,-5.2 C9,-8.8 15,-11.4 22,-13 C30,-14.8 38,-15.8 45.2,-15 C43,-11.6 38,-9.4 33.7,-6.9 C30,-4.4 29,-0.4 26.6,2 C24.4,3 22,1.6 20.4,0.2 C18.4,-1.8 17,-4.2 15.1,-5 C13.4,-4 13,-1.4 11.6,0.2 C9.6,0.6 7.4,-0.2 6.3,-1.6 C5.6,-2.8 5.2,-4 5.4,-5.2Z" fill="#ee4913"/>
 <path d="M48.7,-14.2 C54,-15.4 60,-14 64.6,-11.4 C62,-8.6 58,-7.4 55.8,-5.1 C54.6,-2.6 55.8,0 54.9,2 C52.6,3.6 49.4,4.2 46.9,3.7 C45,1.6 44,-1 44.3,-3.3 C44.8,-7.4 46.6,-11 48.7,-14.2Z" fill="#ee4913"/>
 <path d="M68.1,-9.8 C71,-8.4 73.6,-5.6 74.3,-2.4 C73.4,-0.6 71.8,0.6 69.9,1.1 C67.6,1.8 65,2.8 62.8,2.9 C62.2,0.4 62.8,-2.6 63.7,-5.1 C64.8,-7.2 66.4,-8.8 68.1,-9.8Z" fill="#ee4913"/>
 <path d="M77.9,-5.6 C81.4,-6.4 85.4,-6.6 88.5,-6 C88.4,-4 87.4,-2 85.8,-0.7 C84.6,0.6 83,1.6 81.4,2 C80,0.8 79,-0.8 78.7,-2.4 C78.2,-3.4 77.9,-4.6 77.9,-5.6Z" fill="#ee4913"/>
 <path d="M14.6,-4.6 C13.2,-1.4 13,2 13.8,5" stroke="#d8d5dc" stroke-width="0.7" fill="none"/>
 <circle cx="8" cy="-3.3" r="2.1" fill="#f08a3a"/><circle cx="8" cy="-3.3" r="1.25" fill="#ffffff"/><circle cx="8" cy="-3.3" r="0.55" fill="#8a2a10"/>
</g></defs>
<use href="#fish" transform="translate(491.1,476.6)"/>
<use href="#fish" transform="translate(558.5,533.2) scale(0.864)"/>
<g id="pump">
<path d="M460,597.5 C455.5,599 455,608 460,611" fill="none" stroke="#1b5fae" stroke-width="1.3"/>
<path d="M460.6,597 L466.2,596 L466.2,612.4 L460.6,611.4 Q459.4,604.2 460.6,597Z" fill="#141414"/>
<path d="M467,592 L493.4,591.4 L493.4,614.4 L467,614 Q465.2,613.6 465.2,611.6 L465.2,594.4 Q465.2,592.2 467,592Z" fill="#2b2b2b"/>
<rect x="465.4" y="596" width="28" height="4.4" fill="#3d3d3d" opacity="0.8"/>
<rect x="470.4" y="591.8" width="2" height="22.4" fill="#171717"/>
<rect x="465.4" y="609" width="28" height="5.2" fill="#1a1a1a"/>
<path d="M463,614 L490.5,614 L490.5,617.6 L465,617.6 Z" fill="#151515"/>
<path d="M491.3,579 L502.6,579 L505.4,588 L505.4,600 L491.3,600 Z" fill="#161616"/>
<path d="M487,588 L526,588 L526,590 C533,589.4 539,587 544,582.8 Q544.9,582.6 544.9,584 L544.9,626.4 C540,622 534,619.4 526,618.4 L526,621.4 L487,621.4 Z" fill="#1b1b1b"/>
<path d="M487,621 L500,621 L499,624.4 L488,624.4 Z" fill="#131313"/>
<path d="M528,619 L545,626.6 L545,629 L530,623.6 Z" fill="#131313"/>
<path d="M487,588 L503,588 L503,621.4 L487,621.4 Z" fill="#101010"/>
<rect x="503" y="588" width="23" height="2" fill="#2e2e2e"/>
<rect x="512.6" y="590" width="1.2" height="31" fill="#2c2c2c"/>
<rect x="525.6" y="596" width="15.2" height="1.7" fill="#474747"/>
<rect x="525.6" y="599.55" width="15.2" height="1.7" fill="#474747"/>
<rect x="525.6" y="603.1" width="15.2" height="1.7" fill="#474747"/>
<rect x="525.6" y="606.65" width="15.2" height="1.7" fill="#474747"/>
<rect x="525.6" y="610.2" width="15.2" height="1.7" fill="#474747"/>
<rect x="525.6" y="613.75" width="15.2" height="1.7" fill="#474747"/>
<path d="M526,590 C533,589.4 539,587 544,582.8 L544,585.2 C539,589 533,591.4 526,592 Z" fill="#333"/>
<rect x="504" y="563.8" width="4.6" height="9" fill="#141414"/>
<rect x="492.4" y="561" width="12" height="13.4" rx="1.2" fill="#1d1d1d"/>
<rect x="494.4" y="561.4" width="1" height="12.6" fill="#4a4a4a"/>
<rect x="496.9" y="561.4" width="1" height="12.6" fill="#4a4a4a"/>
<rect x="499.4" y="561.4" width="1" height="12.6" fill="#4a4a4a"/>
<rect x="501.9" y="561.4" width="1" height="12.6" fill="#4a4a4a"/>
<rect x="506.6" y="582.6" width="17" height="6.4" fill="#181818"/>
<rect x="508.6" y="575.6" width="12.8" height="7.8" fill="#1c1c1c"/>
<rect x="510.6" y="577" width="0.9" height="5.4" fill="#4a4a4a"/>
<rect x="513.3" y="577" width="0.9" height="5.4" fill="#4a4a4a"/>
<rect x="516" y="577" width="0.9" height="5.4" fill="#4a4a4a"/>
<rect x="518.7" y="577" width="0.9" height="5.4" fill="#4a4a4a"/>
<circle cx="516.4" cy="567" r="9.4" fill="#1a1a1a"/>
<path d="M510.4,563.6 C512.4,560.4 516,559.2 519,560 C516,561 513.4,563 512,566 Z" fill="#565656"/>
<path d="M512.4,570.6 L522.4,562.6" stroke="#3c3c3c" stroke-width="1.1" fill="none"/>
</g>
<path d="M449,604.2 L423.3,604.2 L423.3,628" fill="none" stroke="#ffffff" stroke-width="1.5" stroke-dasharray="3.4 1.5"/>
<circle cx="453.5" cy="603.8" r="4.6" fill="#ffffff"/>
<g id="labels">
<rect x="15.2" y="193.5" width="151.6" height="25.2" rx="4.5" fill="#fcfeff"/>
<rect x="319.8" y="193.7" width="190" height="24.9" rx="4.5" fill="#fcfeff"/>
<rect x="326.6" y="348.8" width="116.8" height="25" rx="4.5" fill="#fdfefe"/>
<text x="26" y="210.5" textLength="130.4" font-size="14.8" fill="#161616" stroke="#161616" stroke-width="0.45" lengthAdjust="spacing">Discharge Sewage</text>
<text x="328" y="210.5" textLength="172.3" font-size="14.8" fill="#161616" stroke="#161616" stroke-width="0.45" lengthAdjust="spacing">Filtered Clean Water Out</text>
<text x="335.7" y="365.5" textLength="98.3" font-size="14.4" fill="#161616" stroke="#161616" stroke-width="0.45" lengthAdjust="spacing">Pond Water In</text>
<text x="338.6" y="645" textLength="189.3" font-size="14.6" fill="#ffffff" stroke="#ffffff" stroke-width="0.4" lengthAdjust="spacing">Need to purchase separately</text>
</g>
<g id="titles">
<filter id="hbold" x="-2%" y="-10%" width="104%" height="120%"><feOffset in="SourceGraphic" dx="0.6" dy="0" result="a"/><feOffset in="SourceGraphic" dx="-0.6" dy="0" result="b"/><feMerge><feMergeNode in="a"/><feMergeNode in="b"/><feMergeNode in="SourceGraphic"/></feMerge></filter>
<text y="119.5" font-weight="bold" font-size="41.8" stroke-width="0.9" stroke-linejoin="miter" filter="url(#hbold)"><tspan x="128.7" textLength="65.9" lengthAdjust="spacingAndGlyphs" fill="#f05a17" stroke="#f05a17">HOW</tspan> <tspan x="208.5" textLength="31.1" lengthAdjust="spacingAndGlyphs" fill="#1b1b1b" stroke="#1b1b1b">TO</tspan> <tspan x="260.4" textLength="134.5" lengthAdjust="spacingAndGlyphs" fill="#1b1b1b" stroke="#1b1b1b">CONNECT</tspan> <tspan x="410.6" textLength="51.2" lengthAdjust="spacingAndGlyphs" fill="#1b1b1b" stroke="#1b1b1b">FOR</tspan> <tspan x="476.9" textLength="71.8" lengthAdjust="spacingAndGlyphs" fill="#1b1b1b" stroke="#1b1b1b">USE?</tspan></text>
<text x="167.1" y="147.1" font-size="17" textLength="341.5" lengthAdjust="spacingAndGlyphs" fill="#222">The filter needs to be used with a water pump</text>
</g>
</svg>
</body>
</html>
